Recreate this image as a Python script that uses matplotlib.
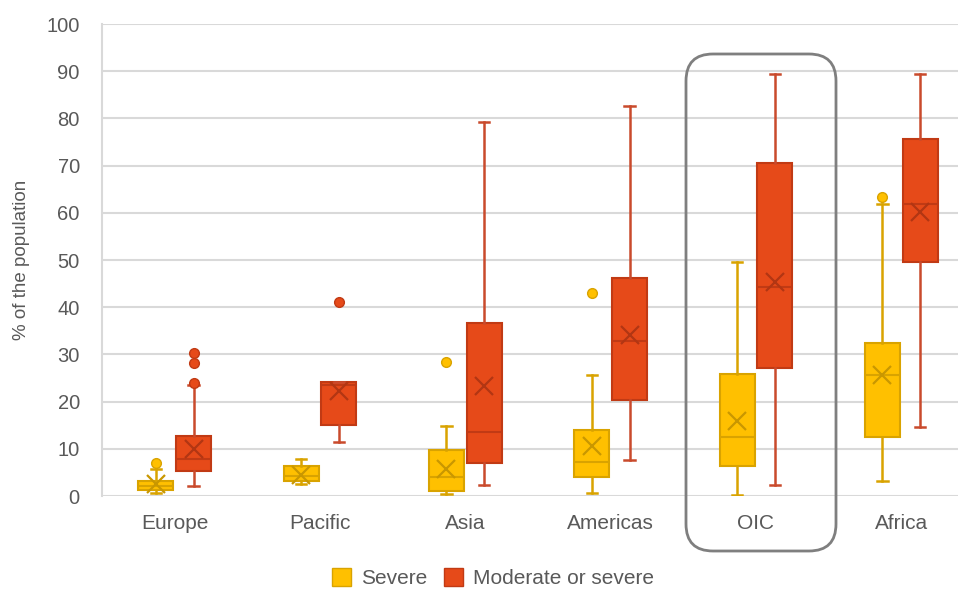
import matplotlib
matplotlib.use("Agg")
import matplotlib.pyplot as plt
import matplotlib.transforms as mtransforms
from matplotlib.patches import FancyBboxPatch, Patch

# --- data -----------------------------------------------------------------------------
REGIONS = ["Europe", "Pacific", "Asia", "Americas", "OIC", "Africa"]

# columns: whislo, q1, med, q3, whishi, mean
SEVERE = [
    [0.6, 1.3, 2.2, 3.2, 5.8, 2.6],
    [2.5, 3.2, 4.3, 6.4, 7.8, 4.5],
    [0.4, 1.1, 4.0, 9.7, 14.8, 5.7],
    [0.6, 4.0, 7.2, 14.0, 25.6, 10.6],
    [0.2, 6.4, 12.5, 25.8, 49.6, 15.9],
    [3.2, 12.5, 25.6, 32.4, 61.9, 25.6],
]
SEVERE_FLIERS = [[7.0], [], [28.4], [43.0], [], [63.3]]

MODERATE = [
    [2.1, 5.3, 7.8, 12.7, 23.5, 10.0],
    [11.4, 15.0, 23.5, 24.2, 24.2, 22.2],
    [2.3, 7.0, 13.5, 36.6, 79.2, 23.3],
    [7.6, 20.3, 32.8, 46.2, 82.6, 34.1],
    [2.3, 27.1, 44.3, 70.6, 89.4, 45.3],
    [14.6, 49.6, 61.9, 75.6, 89.4, 60.2],
]
MODERATE_FLIERS = [[24.0, 28.2, 30.2], [41.1], [], [], [], []]

SERIES = ["Severe", "Moderate or severe"]
Y_TICKS = list(range(0, 101, 10))

TEXT = "#595959"
GRID = "#D9D9D9"
STYLES = {
    "Severe": dict(face="#FFC000", edge="#D9A300", line="#D9A300", mean="#C99700"),
    "Moderate or severe": dict(face="#E64A19", edge="#C13A14", line="#C94A2C", mean="#B23613"),
}


def to_stats(rows, fliers):
    out = []
    for (lo, q1, med, q3, hi, mean), fl in zip(rows, fliers):
        out.append(dict(whislo=lo, q1=q1, med=med, q3=q3, whishi=hi, mean=mean, fliers=fl))
    return out


def draw(ax, stats, offset, st):
    positions = [i + offset for i in range(len(stats))]
    ax.bxp(
        stats, positions=positions, widths=0.24, patch_artist=True,
        showmeans=True, showfliers=True,
        boxprops=dict(facecolor=st["face"], edgecolor=st["edge"], linewidth=1.5),
        medianprops=dict(color=st["edge"], linewidth=1.5),
        whiskerprops=dict(color=st["line"], linewidth=1.8),
        capprops=dict(color=st["line"], linewidth=1.8),
        capwidths=0.07,
        meanprops=dict(marker="x", markersize=13, markeredgecolor=st["mean"],
                       markeredgewidth=1.6),
        flierprops=dict(marker="o", markersize=7, markerfacecolor=st["face"],
                        markeredgecolor=st["edge"], markeredgewidth=1),
        zorder=3,
    )


def main() -> None:
    plt.rcParams["font.family"] = ["Liberation Sans", "DejaVu Sans"]
    fig = plt.figure(figsize=(9.58, 5.90), dpi=100)
    ax = fig.add_axes([102 / 958, 1 - 496 / 590, 1 - 102 / 958, (496 - 24) / 590])

    draw(ax, to_stats(SEVERE, SEVERE_FLIERS), -0.13, STYLES["Severe"])
    draw(ax, to_stats(MODERATE, MODERATE_FLIERS), 0.13, STYLES["Moderate or severe"])

    ax.set_xlim(-0.5, 5.39)
    ax.set_ylim(0, 100)
    ax.set_yticks(Y_TICKS)
    ax.set_xticks(range(len(REGIONS)))
    ax.set_xticklabels(REGIONS)
    ax.tick_params(axis="both", length=0, colors=TEXT)
    ax.tick_params(axis="x", labelsize=15, pad=13)
    ax.tick_params(axis="y", labelsize=14.5, pad=16)
    ax.yaxis.grid(True, color=GRID, linewidth=1.5, zorder=0)
    ax.set_axisbelow(True)
    for side in ["top", "right", "bottom"]:
        ax.spines[side].set_visible(False)
    ax.spines["left"].set_color(GRID)
    ax.spines["left"].set_linewidth(1.5)
    ax.set_ylabel("% of the population", fontsize=13.5, color=TEXT, labelpad=12)

    # rounded frame highlighting the OIC group (pixel coordinates)
    frame = FancyBboxPatch((686, 590 - 551), 150, 497,
                           boxstyle="round,pad=0,rounding_size=27",
                           transform=mtransforms.IdentityTransform(),
                           facecolor="none", edgecolor="#7F7F7F", linewidth=2, zorder=5)
    fig.patches.append(frame)

    handles = [Patch(facecolor=STYLES[s]["face"], edgecolor=STYLES[s]["edge"], label=s)
               for s in SERIES]
    fig.legend(handles=handles, loc="center", bbox_to_anchor=(0.515, 0.02), ncol=2,
               frameon=False, fontsize=15, labelcolor=TEXT, handlelength=0.9,
               handleheight=0.9, handletextpad=0.5, columnspacing=0.8,
               borderpad=0.1)

    fig.savefig("out.png", dpi=100)
    plt.close(fig)


if __name__ == "__main__":
    main()
